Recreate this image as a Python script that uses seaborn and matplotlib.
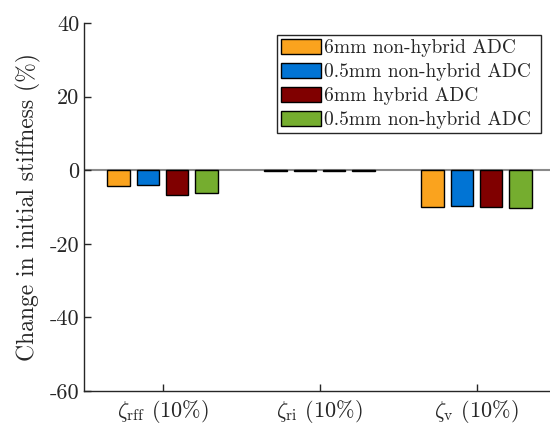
import pandas as pd
import matplotlib
matplotlib.use("Agg")
import matplotlib.pyplot as plt
import seaborn as sns

# data
groups = [r"$\zeta_{\mathrm{rff}}$ (10%)", r"$\zeta_{\mathrm{ri}}$ (10%)", r"$\zeta_{\mathrm{v}}$ (10%)"]
series = ["6mm non-hybrid ADC", "0.5mm non-hybrid ADC", "6mm hybrid ADC", "0.5mm non-hybrid ADC "]
orange_vals = [-4.4, -0.2, -10.0]
blue_vals = [-4.1, -0.15, -9.7]
red_vals = [-6.8, -0.25, -10.1]
green_vals = [-6.1, -0.3, -10.2]
colors = ["#FAA31E", "#0174D4", "#800000", "#75AD2F"]
yticks = [-60, -40, -20, 0, 20, 40]
ytick_labels = ["-60", "-40", "-20", "0", "20", "40"]

rows = []
for name, vals in zip(series, [orange_vals, blue_vals, red_vals, green_vals]):
    for g, v in zip(groups, vals):
        rows.append({"group": g, "series": name, "value": v})
df = pd.DataFrame(rows)

sns.set_style("ticks")
plt.rcParams["font.family"] = ["cmr10"]
plt.rcParams["mathtext.fontset"] = "cm"
plt.rcParams["axes.unicode_minus"] = False

fig = plt.figure(figsize=(5.5, 4.3), dpi=100)
ax = fig.add_axes([84 / 550, 39 / 430, 471 / 550, 368 / 430])

ax.axhline(0, color="#8a8a8a", lw=1.5, zorder=0)
sns.barplot(data=df, x="group", y="value", hue="series", palette=colors,
            saturation=1, width=0.74, gap=0.21, edgecolor="black", linewidth=1,
            ax=ax, zorder=2)

ax.set_xlim(-0.5, 2.5)
ax.set_ylim(-60, 40)
ax.set_yticks(yticks)
ax.set_yticklabels(ytick_labels)
ax.set_xlabel("")
ax.set_ylabel("Change in initial stiffness (%)", fontsize=17, labelpad=6)
ax.tick_params(direction="in", length=5, width=1, labelsize=16, colors="#262626")
ax.tick_params(axis="x", pad=5)
for s in ["top", "right"]:
    ax.spines[s].set_visible(False)
for s in ["left", "bottom"]:
    ax.spines[s].set_color("#262626")
    ax.spines[s].set_linewidth(1)

leg = ax.legend(loc="upper right", bbox_to_anchor=(541 / 550, 1 - 35 / 430),
                bbox_transform=fig.transFigure, borderaxespad=0, fontsize=14,
                frameon=True, fancybox=False, framealpha=1, edgecolor="#262626",
                handlelength=2.05, handleheight=0.8, handletextpad=0.15,
                labelspacing=0.3, borderpad=0.2)
leg.get_frame().set_linewidth(1)

fig.savefig("out.png", dpi=100)
